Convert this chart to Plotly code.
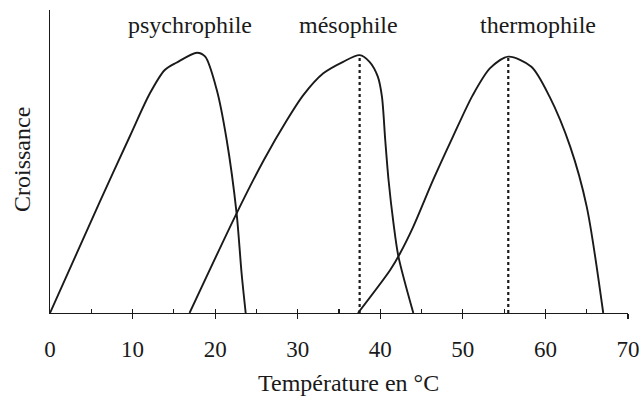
import plotly.graph_objects as go
import numpy as np

# Data (temperature °C, relative growth)
psychro_x = [0, 6.0, 9.7, 12.1, 13.9, 15.3, 17.8, 18.8, 20.2, 21.4, 22.6, 23.2, 23.7]
psychro_y = [0, 36.5, 58.5, 72.5, 80.2, 82.6, 85.9, 84.6, 73.6, 57.1, 32.9, 13.2, 0]

meso_x = [16.9, 22.6, 25.9, 28.7, 30.7, 33.1, 35.5, 37.5, 38.7, 39.7, 40.2, 40.6, 41.0, 41.6, 42.2, 44.0]
meso_y = [0, 32.9, 50.5, 63.7, 72.0, 79.1, 82.9, 85.1, 82.9, 78.0, 71.4, 57.1, 43.9, 29.6, 18.6, 0]

thermo_x = [37.3, 41.2, 42.4, 44.0, 46.4, 48.8, 51.2, 53.3, 55.5, 58.3, 60.5, 63.0, 65.0, 67.0]
thermo_y = [0, 14.2, 19.7, 28.5, 43.9, 58.2, 71.9, 80.8, 84.6, 81.3, 71.4, 54.9, 35.1, 0]

labels = ["psychrophile", "mésophile", "thermophile"]
label_x = [16.9, 36.1, 59.1]
major_ticks = [0, 10, 20, 30, 40, 50, 60, 70]
all_ticks = list(range(0, 75, 5))

FONT = "Liberation Serif"
INK = "#1a1a1a"
FS = 24

fig = go.Figure()
for xs, ys in [(psychro_x, psychro_y), (meso_x, meso_y), (thermo_x, thermo_y)]:
    fig.add_trace(go.Scatter(x=xs, y=ys, mode="lines",
                             line=dict(color=INK, width=1.9, shape="spline", smoothing=0.8),
                             hoverinfo="skip", showlegend=False))

# dotted optimum lines for mesophile and thermophile
for xs, ys in [(meso_x, meso_y), (thermo_x, thermo_y)]:
    i = int(np.argmax(ys))
    fig.add_trace(go.Scatter(x=[xs[i], xs[i]], y=[0, ys[i]], mode="lines",
                             xaxis="x2",
                             line=dict(color=INK, width=2.2, dash="dot"),
                             hoverinfo="skip", showlegend=False))

for lx, txt in zip(label_x, labels):
    fig.add_annotation(x=lx, y=95, xref="x", yref="y", text=txt, showarrow=False,
                       xanchor="center", yanchor="middle",
                       font=dict(family=FONT, size=FS, color=INK))

fig.add_annotation(x=0.5156, y=-0.231, xref="paper", yref="paper",
                   text="Température en °C", showarrow=False,
                   xanchor="center", yanchor="middle",
                   font=dict(family=FONT, size=FS, color=INK))
fig.add_annotation(x=-0.0484, y=0.505, xref="paper", yref="paper",
                   text="Croissance", showarrow=False, textangle=-90,
                   xanchor="center", yanchor="middle",
                   font=dict(family=FONT, size=FS, color=INK))

fig.update_layout(
    width=642, height=401,
    margin=dict(l=50, r=14, t=10, b=88),
    plot_bgcolor="white", paper_bgcolor="white",
    hovermode=False,
    xaxis=dict(range=[0, 70], tickvals=all_ticks,
               ticktext=[str(v) if v in major_ticks else "" for v in all_ticks],
               ticks="inside", ticklen=4, tickwidth=1.2, tickcolor=INK,
               showline=True, linecolor=INK, linewidth=1.2, automargin=False,
               showgrid=False, zeroline=False, ticklabelstandoff=15,
               tickfont=dict(family=FONT, size=23, color=INK)),
    xaxis2=dict(range=[0, 70], overlaying="x", anchor="y", side="bottom",
                tickvals=major_ticks[1:], showticklabels=False, automargin=False,
                ticks="outside", ticklen=5, tickwidth=1.2, tickcolor=INK,
                showline=False, showgrid=False, zeroline=False),
    yaxis=dict(range=[0, 100], showline=True, linecolor=INK, linewidth=1.2,
               showticklabels=False, ticks="", showgrid=False, zeroline=False,
               automargin=False),
)

fig.write_html(
    "out.html",
    config={"displayModeBar": False, "staticPlot": True},
    post_script=("document.documentElement.style.overflow='hidden';"
                 "document.body.style.overflow='hidden';"
                 "document.body.style.margin='0';"),
)
